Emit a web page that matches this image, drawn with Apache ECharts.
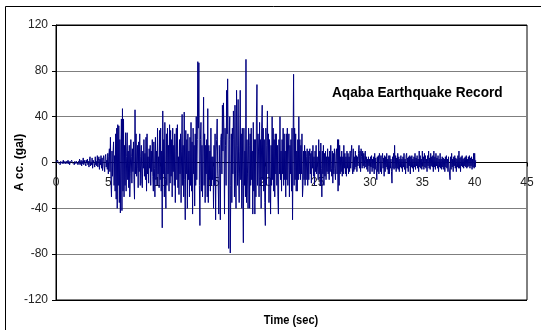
<!DOCTYPE html>
<html>
<head>
<meta charset="utf-8">
<script src="https://cdn.jsdelivr.net/npm/echarts@6/dist/echarts.min.js"></script>
<style>
  html, body { margin: 0; padding: 0; background: #fff; }
  #chart { width: 541px; height: 330px; }
</style>
</head>
<body>
<div id="chart"></div>
<script>
// sampling step of the record (sec)
var dt = 0.05;

// acceleration (gal), one row per second
var acc = [
	0, 1, -1, 2, 0, -1, 1, 0, -2, 1, 0, 1, -1, 0, 2, -1, 0, 1, -1, 0,
	1, -1, 0, 2, -1, 1, -2, 0, 1, -1, 2, 0, -1, 1, 0, -2, 1, 0, -1, 1,
	0, 2, -2, 1, -1, 3, -2, 0, 2, -3, 1, -1, 4, -2, 0, 2, -1, -3, 2, 0,
	3, -2, 1, -4, 2, 5, -3, 0, -2, 4, -5, 2, 3, -1, -4, 5, -2, 1, -3, 6,
	-4, 2, 5, -6, 3, -2, 6, -5, 4, -7, 2, 6, -3, -8, 5, 7, -4, 2, -6, 8,
	-10, 5, 12, -8, 22, -15, -30, 10, -12, 8, 18, -20, 6, -25, 25, -32, 30, -40, 33, -20,
	32, -35, 20, -44, 10, 38, -42, 47, -25, 38, -30, 15, -20, 26, -25, 5, 26, -15, 10, -22,
	15, -30, -10, 20, 5, -18, 12, -8, 18, -15, -32, 46, -10, 25, -12, -5, 15, -22, 18, -8,
	25, -20, 5, 15, -18, -22, 10, -5, 20, -12, 8, -15, 22, -25, 25, -10, 5, -18, 12, -5,
	15, -20, 10, -8, 20, -12, -25, 18, -5, -30, 22, -15, 10, -20, 30, -10, 5, -22, 28, -15,
	30, -25, 10, -57, 45, -10, 20, -30, 35, -15, -40, 25, -20, 30, -10, 15, -25, 33, -18, 28,
	-12, 20, -30, 30, -8, 15, -20, 25, -35, 10, 30, -15, 33, -22, 5, -28, 20, -10, 25, -35,
	10, 42, -20, 15, -30, 44, -15, -50, 28, -10, 20, -40, 25, -15, 10, -30, 22, -20, 35, -25,
	18, -45, 30, -10, 15, -38, 25, -20, 40, -15, 20, 88, 30, 87, -20, -55, 20, 35, -25, 15,
	-30, 10, 57, -20, 25, -35, 15, -10, 20, -30, 47, -35, 15, -15, 10, -25, 30, -20, 5, -15,
	5, -40, 15, -20, 25, -50, 10, 20, 38, -10, -20, -45, 15, -5, -50, 20, 25, -10, 50, 10,
	52, 20, -45, 30, 15, -20, 63, 25, 73, 10, -75, 20, 40, -79, -20, 25, -35, 30, -10, 45,
	20, -30, 50, -10, -40, 63, 15, -20, 55, -10, -35, 10, 63, -15, 25, -40, 30, -20, -70, 30,
	-20, 10, -30, 90, -35, 20, -10, -40, 30, 15, -40, 25, -20, 30, -15, 10, -45, 35, -25, 20,
	-45, 20, -30, 40, 68, -20, 25, 10, -30, 35, -20, 20, -40, 30, 50, -15, 30, -25, 20, -35,
	-55, 30, -20, 15, 45, -10, 25, -35, 20, -10, -45, 15, -20, 40, -15, 30, -25, 20, -30, 25,
	-10, 25, -20, 15, -30, -45, 20, -10, 40, -15, 10, -25, 20, -10, 30, -20, 25, -15, 10, -30,
	25, -15, 30, -20, 10, 25, -30, 15, -10, 20, -25, 30, -50, 10, 77, -20, 30, -15, 25, -25,
	10, -25, 20, -15, 40, -10, 20, -15, 15, -10, 25, -30, -20, 10, -15, 15, -20, 10, -15, 5,
	12, -20, 10, -15, 5, 12, -10, 8, -18, 10, -5, 15, -12, 5, -20, 10, -8, 15, -10, 5,
	5, -15, 20, -10, 10, -20, 17, -5, -30, 10, -10, 15, -20, 8, -12, 10, -15, 5, -8, 12,
	-10, 5, -15, 10, -8, 15, -5, -12, 10, -18, 8, -10, 12, -5, -15, 8, 12, -10, 20, -25,
	20, -20, 15, -10, 5, -8, 10, -12, 5, -10, 15, -5, 8, -10, 5, -12, 10, -5, 8, -10,
	5, -8, 10, -5, 8, 15, -5, -10, 12, -8, 5, -6, 10, -4, 6, -8, 5, -3, 8, 15,
	-5, 10, -8, 12, 5, -5, 10, -3, 8, -5, 6, 10, -4, 5, -6, 3, -8, 5, -3, 3,
	-10, 5, -4, 6, -8, 3, -5, 5, -10, 8, -6, 4, -5, -15, 5, -8, 6, -10, 8, 5,
	-8, 6, -10, 3, 8, -5, 4, -12, 6, -8, 5, -4, 8, -6, 3, -10, 6, -10, 6, -5,
	3, -8, -18, 5, -5, 8, -6, 15, -5, 6, -8, 4, -5, 8, -6, 5, -8, 3, -4, 6,
	-5, 3, -8, 5, -4, 8, -6, 3, -10, 6, 8, -5, 4, -8, 5, -3, 6, -10, 5, -4,
	6, -5, 3, -8, 5, -4, 8, -6, 4, -3, 6, -5, 3, -8, 10, -4, 6, -5, 3, -6,
	10, -3, 5, -6, 8, -4, 6, -5, 3, -8, 6, -3, 10, -5, 4, -6, 8, -3, 5, -4,
	6, -8, 10, -4, 5, -6, 8, -3, 4, -5, 6, -8, 3, -4, 8, -5, 3, -6, 5, -4,
	4, -6, 3, -8, 5, -4, 6, -5, 3, -8, 5, -4, -10, -15, 5, -6, 8, -4, 3, -8,
	5, -3, 6, -5, 4, -8, 3, -4, 6, -5, 10, -5, 4, -8, 5, -3, 6, -4, 3, -5,
	4, -3, 5, -4, 6, -5, 3, -4, 5, -3, 6, -5, 4, -3, 5, -6, 3, -4, 8, -5,
	8, -4, 2
];

var font = 'Liberation Sans, Arial, sans-serif';

recordChart();
function recordChart() {
	var myChart = echarts.init(document.getElementById('chart'));
	var points = acc.map(function (v, i) {
		return [+(i * dt).toFixed(2), v];
	});
	var option = {
		animation : false,
		backgroundColor : '#fff',
		grid : {
			left : 56,
			right : 14,
			top : 25,
			bottom : 30,
			outerBoundsMode : 'none',
			show : true,
			borderColor : '#000',
			borderWidth : 1
		},
		xAxis : {
			type : 'value',
			min : 0,
			max : 45,
			interval : 5,
			// ticks and labels sit on the zero line, in the middle of the plot
			offset : -137.5,
			axisLine : { show : false, onZero : false },
			axisTick : { show : true, length : 4, lineStyle : { color : '#000' } },
			axisLabel : { margin : 14, fontFamily : font, fontSize : 12, color : '#222' },
			splitLine : { show : false }
		},
		yAxis : {
			type : 'value',
			min : -120,
			max : 120,
			interval : 40,
			name : 'A cc. (gal)',
			nameLocation : 'middle',
			nameGap : 30,
			nameMoveOverlap : false,
			nameTextStyle : { fontFamily : font, fontWeight : 'bold', fontSize : 12, color : '#000' },
			axisLine : { show : true, onZero : false, lineStyle : { color : '#000', width : 1 } },
			axisTick : { show : true, length : 4, lineStyle : { color : '#000' } },
			axisLabel : { margin : 8, fontFamily : font, fontSize : 12, color : '#222' },
			// zero line black, the others grey
			splitLine : {
				show : true,
				lineStyle : {
					color : [ '#000', '#7f7f7f', '#7f7f7f', '#000', '#7f7f7f', '#7f7f7f', '#000' ],
					width : 1
				}
			}
		},
		graphic : [
			{
				type : 'rect',
				silent : true,
				shape : { x : 5.5, y : 6.5, width : 600, height : 400 },
				style : { fill : 'none', stroke : '#000', lineWidth : 1 }
			},
			{
				type : 'text',
				x : 332,
				y : 93,
				scaleX : 0.91,
				style : {
					text : 'Aqaba Earthquake Record',
					font : 'bold 15px ' + font,
					fill : '#000',
					verticalAlign : 'middle'
				}
			},
			{
				type : 'text',
				x : 291,
				y : 321,
				scaleX : 0.92,
				style : {
					text : 'Time (sec)',
					font : 'bold 12px ' + font,
					fill : '#000',
					align : 'center',
					verticalAlign : 'middle'
				}
			}
		],
		series : [
			{
				name : 'Acc',
				type : 'line',
				data : points,
				showSymbol : false,
				sampling : null,
				lineStyle : { color : '#000080', width : 1 },
				itemStyle : { color : '#000080' }
			}
		]
	};
	myChart.setOption(option, true);
}
</script>
</body>
</html>
